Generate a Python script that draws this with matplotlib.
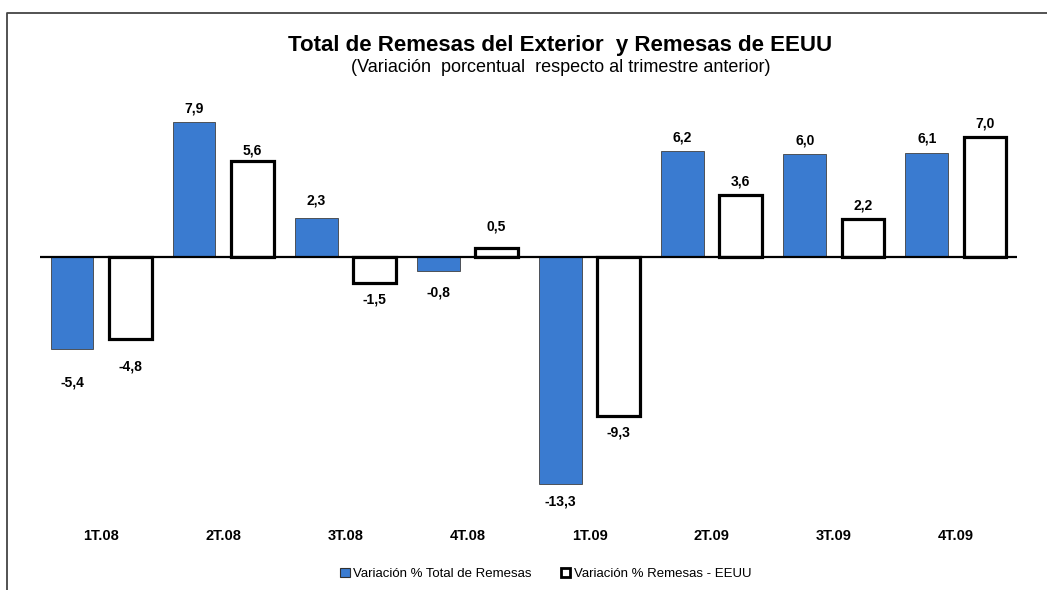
import matplotlib
matplotlib.use("Agg")
import matplotlib.pyplot as plt
from matplotlib.lines import Line2D
from matplotlib.patches import Patch
import numpy as np

plt.rcParams['font.family'] = ['Liberation Sans', 'DejaVu Sans']

categories = ["1T.08", "2T.08", "3T.08", "4T.08", "1T.09", "2T.09", "3T.09", "4T.09"]
total = [-5.4, 7.9, 2.3, -0.8, -13.3, 6.2, 6.0, 6.1]
eeuu = [-4.8, 5.6, -1.5, 0.5, -9.3, 3.6, 2.2, 7.0]
name_total = "Variación % Total de Remesas"
name_eeuu = "Variación % Remesas - EEUU"

# extra label offsets (points) to mimic the original label placement
extra_total = [12, 0, 2, 4, 0, 0, 0, 0]
extra_eeuu = [8, -2, 0, 6, 0, 0, 0, 0]

W, H = 1047, 590
fig = plt.figure(figsize=(W / 100, H / 100), dpi=100)

ymin, ymax = -15.5, 9.0
zero_px = 257
ppu = 17.09
top_px = zero_px - ymax * ppu
bot_px = zero_px - ymin * ppu
ax = fig.add_axes([40 / W, 1 - bot_px / H, 977 / W, (bot_px - top_px) / H])
ax.set_xlim(-0.5, len(categories) - 0.5)
ax.set_ylim(ymin, ymax)

x = np.arange(len(categories))
bw = 0.35
off = 0.238
blue = '#3A7BD0'
ax.bar(x - off, total, bw, color=blue, edgecolor='#404040', linewidth=0.6, zorder=2)
ax.bar(x + off, eeuu, bw, color='white', edgecolor='black', linewidth=2.3, zorder=2)

ax.axhline(0, color='black', linewidth=1.6, zorder=3)

def fmt(v):
    return f"{v:.1f}".replace('.', ',')

for xs, vals, extra in ((x - off, total, extra_total), (x + off, eeuu, extra_eeuu)):
    for xi, v, e in zip(xs, vals, extra):
        if v >= 0:
            ax.annotate(fmt(v), (xi, v), xytext=(0, 5 + e), textcoords='offset points',
                        ha='center', va='bottom', fontsize=10, fontweight='bold')
        else:
            ax.annotate(fmt(v), (xi, v), xytext=(0, -7 - e), textcoords='offset points',
                        ha='center', va='top', fontsize=10, fontweight='bold')

for s in ax.spines.values():
    s.set_visible(False)
ax.set_yticks([])
ax.set_xticks(x)
ax.set_xticklabels(categories, fontsize=10.5, fontweight='bold')
ax.tick_params(axis='x', length=0, pad=5)

fig.text(560 / W, 1 - 45 / H, "Total de Remesas del Exterior  y Remesas de EEUU",
         ha='center', va='center', fontsize=16, fontweight='bold')
fig.text(561 / W, 1 - 67 / H, "(Variación  porcentual  respecto al trimestre anterior)",
         ha='center', va='center', fontsize=13)

handles = [Patch(facecolor=blue, edgecolor='#303030', linewidth=0.8, label=name_total),
           Patch(facecolor='white', edgecolor='black', linewidth=2.0, label=name_eeuu)]
fig.legend(handles=handles, loc='center', bbox_to_anchor=(546 / W, 1 - 574 / H), ncol=2,
           frameon=False, fontsize=9.5, handlelength=0.7, handleheight=0.7,
           handletextpad=0.3, columnspacing=2.2)

# outer partial frame (top and left)
fig.add_artist(Line2D([7 / W, 7 / W, 1.0], [0.0, 1 - 13 / H, 1 - 13 / H],
                      transform=fig.transFigure, color='#444444', linewidth=1.3))

fig.savefig("out.png", dpi=100)
